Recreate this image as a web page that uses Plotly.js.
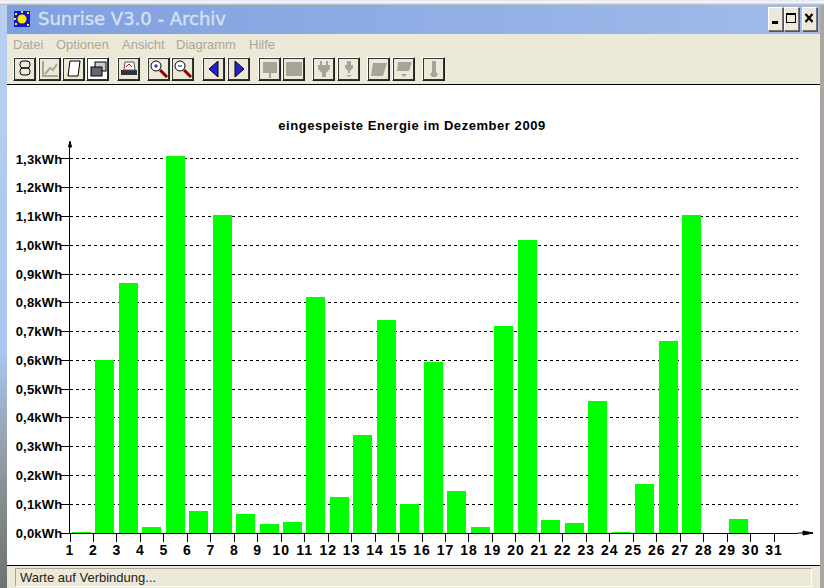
<!DOCTYPE html>
<html><head><meta charset="utf-8">
<script src="https://cdn.plot.ly/plotly-3.0.1.min.js"></script>
<style>
html,body{margin:0;padding:0;width:824px;height:588px;overflow:hidden;background:#dfe6ee;font-family:"Liberation Sans",Arial,sans-serif}
.a{position:absolute}
#left{left:0;top:0;width:7px;height:588px;background:linear-gradient(180deg,#b9d0f0 0,#a9c6ee 60%,#8d9296 82%,#6e7270 100%)}
#right{left:820px;top:0;width:4px;height:588px;background:#a9a7a0}
#top{left:0;top:0;width:824px;height:5px;background:linear-gradient(180deg,#dfe9f7,#f4f7fb 50%,#b5b5b0)}
#tb{left:7px;top:5px;width:813px;height:29px;background:linear-gradient(90deg,#7f9fdf,#a1bceb)}
#tt{left:38px;top:8px;font:18px "DejaVu Sans",sans-serif;-webkit-text-stroke:.4px #d5e0f4;color:#d5e0f4;white-space:pre}
#menu{left:7px;top:34px;width:813px;height:50px;background:#ece9d8}
.m{position:absolute;top:37px;font:13px "Liberation Sans",sans-serif;color:#aca899}
#rule1{left:7px;top:84px;width:813px;height:1px;background:#000}
#white{left:7px;top:85px;width:813px;height:480px;background:#fff}
#rule2{left:7px;top:565px;width:813px;height:1px;background:#000}
#status{left:7px;top:566px;width:813px;height:22px;background:#ece9d8}
#sbox{left:15px;top:568px;width:795px;height:17px;border:1px solid;border-color:#aca899 #fff #fff #aca899;font:13px "Liberation Sans",sans-serif;color:#222;line-height:17px;text-indent:4px}
.b{position:absolute;top:57px;width:23px;height:24px;background:#ece9d8;border:1px solid;border-color:#fff #222 #222 #fff;box-shadow:0 0 0 1px #333 inset;box-sizing:border-box}
.w{position:absolute;top:7px;width:15px;height:24px;background:#ece9d8;border:1px solid;border-color:#fff #777 #777 #fff;box-shadow:1px 1px 0 #555;box-sizing:border-box}
#plot{left:0;top:0;width:824px;height:588px}
svg{display:block}
.xtick text{letter-spacing:1px}
.ytick text{letter-spacing:.2px}
.gtitle{letter-spacing:.55px}
</style></head><body>
<div class="a" id="left"></div><div class="a" id="right"></div><div class="a" id="top"></div>
<div class="a" id="tb"></div>
<svg class="a" style="left:14px;top:11px" width="16" height="16"><rect width="16" height="16" fill="#1018c8"/><circle cx="8" cy="8" r="4.5" fill="#ffe800"/><path d="M1 2h2v2H1zM13 1h2v2h-2zM1 12h2v2H1zM13 13h2v2h-2zM7 0h2v2H7zM0 7h2v2H0z" fill="#ffe800"/></svg>
<div class="a" id="tt">Sunrise V3.0 - Archiv</div>
<div class="w" style="left:768px"><svg width="13" height="22"><rect x="3" y="13" width="6" height="3" fill="#000"/></svg></div>
<div class="w" style="left:784px"><svg width="13" height="22"><rect x="1.5" y="5.5" width="9" height="9" fill="none" stroke="#000"/><rect x="1" y="5" width="10" height="2" fill="#000"/></svg></div>
<div class="w" style="left:802px"><svg width="13" height="22"><path d="M2.5 6l7 8M9.5 6l-7 8" stroke="#000" stroke-width="2.2"/></svg></div>
<div class="a" id="menu"></div>
<span class="m" style="left:13px">Datei</span><span class="m" style="left:56px">Optionen</span><span class="m" style="left:122px">Ansicht</span><span class="m" style="left:176px">Diagramm</span><span class="m" style="left:249px">Hilfe</span>
<div id="btns"></div>
<div class="a" id="rule1"></div><div class="a" id="white"></div><div class="a" id="rule2"></div>
<div class="a" id="status"></div><div class="a" id="sbox">Warte auf Verbindung...</div>
<div class="a" id="plot"></div>
<script>
const days = [1,2,3,4,5,6,7,8,9,10,11,12,13,14,15,16,17,18,19,20,21,22,23,24,25,26,27,28,29,30,31];
const energy = [0.005,0.60,0.87,0.02,1.31,0.075,1.105,0.065,0.03,0.037,0.82,0.125,0.34,0.74,0.10,0.595,0.145,0.02,0.72,1.02,0.045,0.035,0.46,0.005,0.17,0.667,1.105,0,0.05,0,0];
const yTicks = [0,0.1,0.2,0.3,0.4,0.5,0.6,0.7,0.8,0.9,1.0,1.1,1.2,1.3];
const yLabels = ["0,0kWh","0,1kWh","0,2kWh","0,3kWh","0,4kWh","0,5kWh","0,6kWh","0,7kWh","0,8kWh","0,9kWh","1,0kWh","1,1kWh","1,2kWh","1,3kWh"];
const chartTitle = "eingespeiste Energie im Dezember 2009";

// toolbar chrome
const btnX=[13,38,62,86,117,147,171,202,227,258,282,312,337,367,392,422];
const dk='#a8a598';
const icons=[
'<rect x="6" y="3" width="10" height="7" rx="3" fill="none" stroke="#000"/><rect x="6" y="10" width="10" height="7" rx="3" fill="none" stroke="#000"/>',
`<path d="M4 3v15h15M6 16l5-6 3 2 4-6" fill="none" stroke="${dk}" stroke-width="2"/>`,
'<path d="M7 3h10l-2 15H5z" fill="#fff" stroke="#000"/>',
'<rect x="8" y="4" width="11" height="9" fill="#ccc" stroke="#000"/><rect x="4" y="9" width="11" height="9" fill="#667" stroke="#000"/>',
'<path d="M3 12h16v5H3z" fill="#333"/><path d="M7 4h9l1 8H6z" fill="#fff" stroke="#555"/><path d="M8 9l3-3 3 3" fill="none" stroke="#d00"/>',
'<circle cx="8" cy="8" r="5" fill="#fff" stroke="#000"/><path d="M6 8h4M8 6v4" stroke="#00c"/><path d="M12 12l7 7" stroke="#800" stroke-width="3"/>',
'<circle cx="8" cy="8" r="5" fill="#fff" stroke="#000"/><path d="M6 8h4" stroke="#00c"/><path d="M12 12l7 7" stroke="#800" stroke-width="3"/>',
'<path d="M6 11l9-8v16z" fill="#22c" stroke="#000"/>',
'<path d="M16 11l-9-8v16z" fill="#22c" stroke="#000"/>',
`<path d="M4 4h14v11h-6v5h-2v-5H4z" fill="${dk}"/>`,
`<path d="M3 4h16v14H3z" fill="${dk}"/>`,
`<path d="M7 3v4H5v4l4 4v4h4v-4l4-4V7h-2V3h-2v4H9V3z" fill="${dk}"/>`,
`<path d="M9 3v4H7v3l3 3v2h2v-2l3-3V7h-2V3zM8 17l3 2 3-2" fill="${dk}"/>`,
`<path d="M5 5h14l-4 13H3z" fill="${dk}"/>`,
`<path d="M5 4h14l-3 9H4zM8 16l3 3 3-3" fill="${dk}"/>`,
`<path d="M9 3h4v11l2 2-2 3H9l-2-3 2-2z" fill="${dk}"/>`
];
document.getElementById('btns').innerHTML=btnX.map((x,i)=>`<div class="b" style="left:${x}px${i==3?';background:#fff':''}"><svg width="21" height="22">${icons[i]}</svg></div>`).join('');

const fnt={family:'Liberation Sans',size:13,color:'#000',weight:'bold'};
const layout = {
  width:824,height:588,autosize:false,showlegend:false,
  paper_bgcolor:'rgba(0,0,0,0)',plot_bgcolor:'rgba(0,0,0,0)',
  margin:{l:70,r:26,t:148,b:55,pad:0},
  bargap:0,
  title:{text:chartTitle,font:{family:'Liberation Sans',size:13,color:'#000',weight:'bold'},x:0.5,xref:'container',xanchor:'center',y:1-125/588,yref:'container',yanchor:'middle'},
  xaxis:{range:[1,1+(798-70)/23.47],tickvals:days,ticktext:days.map(String),tickmode:'array',ticks:'outside',ticklen:8,tickwidth:1,tickcolor:'#000',
    ticklabelstandoff:-4,showgrid:false,zeroline:false,showline:true,linecolor:'#000',linewidth:1,fixedrange:true,
    tickfont:Object.assign({},fnt,{size:14})},
  yaxis:{range:[0,385/287.7],tickvals:yTicks,ticktext:yLabels,tickmode:'array',ticks:'outside',ticklen:8,tickwidth:1,tickcolor:'#000',
    ticklabelstandoff:-4,showgrid:true,gridcolor:'#000',griddash:'3px,3px',gridwidth:1,zeroline:false,showline:true,linecolor:'#000',linewidth:1,fixedrange:true,
    tickfont:fnt},
  shapes:[
    {type:'line',xref:'paper',yref:'paper',x0:1,x1:1+15/728,y0:0,y1:0,line:{color:'#000',width:1}},
    {type:'path',xref:'paper',yref:'paper',path:`M ${1+5/728} ${-2/385} L ${1+5/728} ${2/385} L ${1+15/728} 0 Z`,fillcolor:'#000',line:{color:'#000',width:1}},
    {type:'line',xref:'paper',yref:'paper',x0:0,x1:0,y0:1,y1:1+6/385,line:{color:'#000',width:1}},
    {type:'path',xref:'paper',yref:'paper',path:`M ${-1.5/728} ${1+1/385} L ${1.5/728} ${1+1/385} L 0 ${1+7/385} Z`,fillcolor:'#000',line:{color:'#000',width:1}}
  ]
};
const trace={type:'bar',x:days.map(d=>d+0.48),y:energy,width:0.81,marker:{color:'#00ff00',line:{width:0}},hoverinfo:'skip'};
Plotly.newPlot('plot',[trace],layout,{displayModeBar:false,staticPlot:true});
</script>
</body></html>
